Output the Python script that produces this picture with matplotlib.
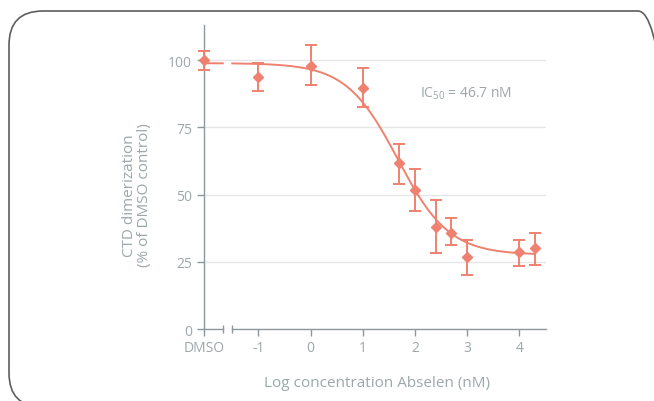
import numpy as np
import matplotlib.pyplot as plt
from matplotlib.patches import FancyBboxPatch

plt.rcParams['font.family'] = ['Open Sans', 'DejaVu Sans']
plt.rcParams['mathtext.fontset'] = 'custom'
plt.rcParams['mathtext.rm'] = 'Open Sans'

# data (log10 nM, DMSO drawn at the left edge)
dmso_x = -2.04
log_conc = [dmso_x, -1, 0, 1, 1.7, 2, 2.4, 2.7, 3, 4, 4.3]
pct = [100.1, 93.8, 98.0, 89.7, 61.6, 51.8, 38.0, 35.6, 26.7, 28.5, 30.1]
err_hi = [103.5, 98.9, 105.5, 97.1, 68.8, 59.7, 47.9, 41.3, 33.1, 33.1, 35.6]
err_lo = [96.5, 88.6, 90.7, 82.4, 53.9, 43.8, 28.3, 31.3, 20.1, 23.3, 23.8]

xticks = [dmso_x, -1, 0, 1, 2, 3, 4]
xtick_labels = ['DMSO', '-1', '0', '1', '2', '3', '4']
yticks = [0, 25, 50, 75, 100]

# fitted 4PL curve
fit_top, fit_bottom, ic50_nm, hill = 98.9, 27.6, 46.7, 0.88
brk = (-1.68, -1.50)

red = '#EF8170'
grey = '#9CA7AA'
spine_c = '#8C989B'

def fit(x):
    return fit_bottom + (fit_top - fit_bottom) / (1 + 10 ** ((x - np.log10(ic50_nm)) * hill))

fig = plt.figure(figsize=(6.54, 4.02), dpi=100)
ax = fig.add_axes([0.312, 0.179, 0.5225, 0.7572])

ax.set_xlim(dmso_x, 4.506)
ax.set_ylim(0, 113.2)

ax.yaxis.grid(True, color='#E6E6E6', lw=1)
ax.set_axisbelow(True)

for side in ['top', 'right', 'bottom']:
    ax.spines[side].set_visible(False)
ax.spines['left'].set_color(spine_c)
ax.spines['left'].set_linewidth(1)

# broken x axis
trans = ax.get_xaxis_transform()
for x0, x1 in [(dmso_x, brk[0]), (brk[1], 4.506)]:
    ax.plot([x0, x1], [0, 0], color=spine_c, lw=1, transform=trans, clip_on=False)
ax.plot(list(brk), [0, 0], ls='none', marker='|', ms=6, mew=1, color=spine_c,
        transform=trans, clip_on=False)

# fit line, drawn around the break
xa = np.linspace(dmso_x, brk[0], 20)
xb = np.linspace(brk[1], 4.3, 300)
ax.plot(xa, fit(xa), color=red, lw=1.4)
ax.plot(xb, fit(xb), color=red, lw=1.4)

y = np.array(pct)
yerr = [y - np.array(err_lo), np.array(err_hi) - y]
ax.errorbar(log_conc, pct, yerr=yerr, fmt='D', color=red, ms=5, elinewidth=1.4,
            capsize=4, capthick=1.4, clip_on=False, zorder=3)

ax.set_xticks(xticks)
ax.set_xticklabels(xtick_labels)
ax.set_yticks(yticks)
ax.tick_params(axis='both', colors=spine_c, labelcolor=grey, labelsize=10,
               length=5, width=1)
ax.tick_params(axis='x', pad=3)

ax.text(2.10, 88.0, r'IC$_{\mathrm{50}}$ = 46.7 nM', color=grey, fontsize=10,
        ha='left', va='center')

ax.set_xlabel('Log concentration Abselen (nM)', color=grey, fontsize=11)
ax.xaxis.label.set_va('center')
ax.xaxis.set_label_coords(0.505, -0.174)
ax.set_ylabel('CTD dimerization\n(% of DMSO control)', color=grey, fontsize=11,
              linespacing=1.0)
ax.yaxis.label.set_va('center')
ax.yaxis.set_label_coords(-0.196, 0.443)

# rounded frame around the figure (right side runs off the image)
frame = FancyBboxPatch((0.09, -0.06), 6.63, 3.96,
                       boxstyle='round,pad=0,rounding_size=0.34',
                       transform=fig.dpi_scale_trans, fill=False,
                       edgecolor='#5E5E5E', lw=1.2)
fig.patches.append(frame)

fig.savefig('out.png', dpi=100)
